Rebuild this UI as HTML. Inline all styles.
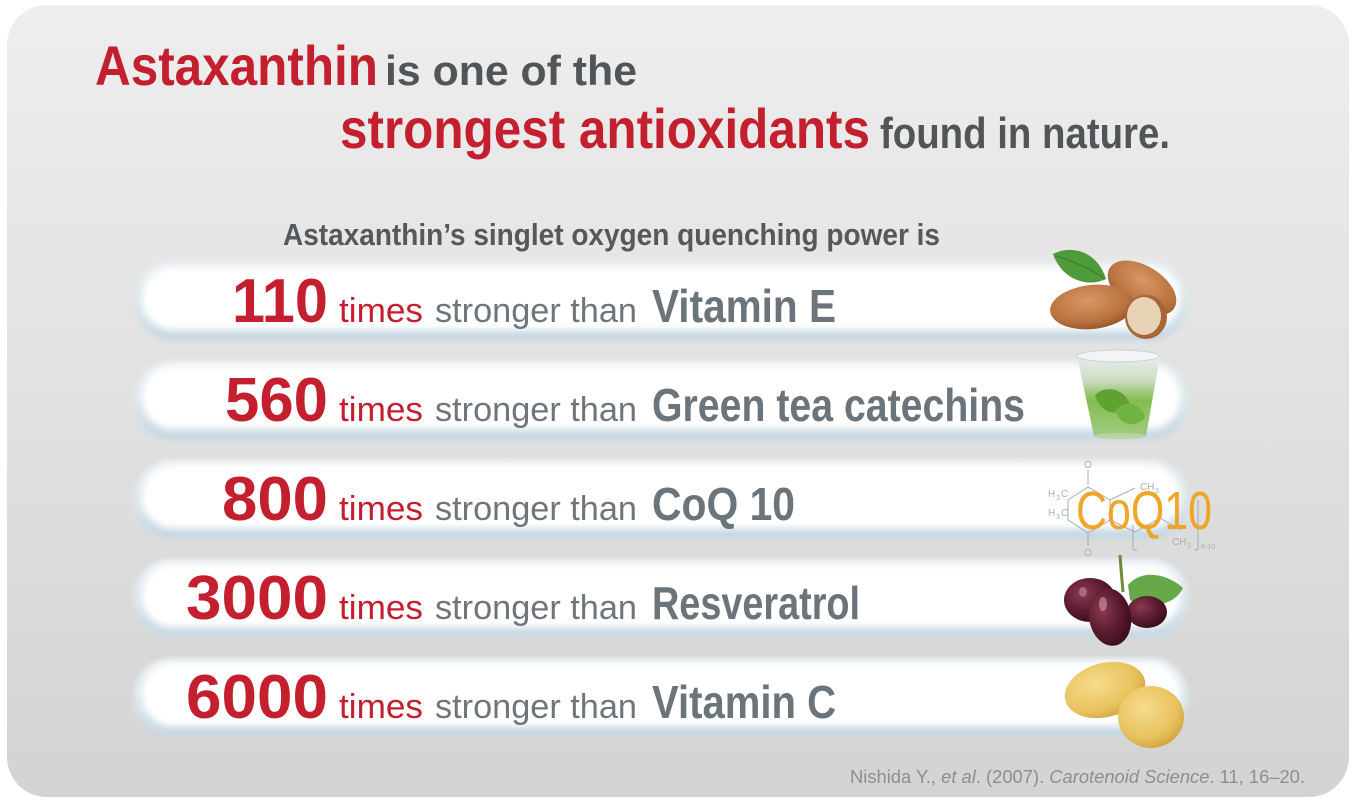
<!DOCTYPE html>
<html><head><meta charset="utf-8"><style>
html,body{margin:0;padding:0;background:#fff;}
svg{display:block;}
</style></head><body>
<svg width="1364" height="809" viewBox="0 0 1364 809" xmlns="http://www.w3.org/2000/svg" font-family="'Liberation Sans', Arial, sans-serif">
<defs>
<linearGradient id="card" x1="0" y1="0" x2="0" y2="1">
<stop offset="0" stop-color="#eeeeee"/>
<stop offset="0.5" stop-color="#e1e1e1"/>
<stop offset="1" stop-color="#d3d3d3"/>
</linearGradient>
<linearGradient id="pillEdge" x1="0" y1="0" x2="0" y2="1">
<stop offset="0" stop-color="#eaf0f4"/>
<stop offset="0.6" stop-color="#dae5ec"/>
<stop offset="1" stop-color="#c6d7e2"/>
</linearGradient>
<filter id="b3" x="-5%" y="-30%" width="110%" height="160%"><feGaussianBlur stdDeviation="2.5"/></filter>
<filter id="b4" x="-5%" y="-30%" width="110%" height="160%"><feGaussianBlur stdDeviation="3.5"/></filter>
<radialGradient id="alm" cx="0.45" cy="0.35" r="0.7">
<stop offset="0" stop-color="#d99866"/>
<stop offset="0.7" stop-color="#b8703e"/>
<stop offset="1" stop-color="#8e4f28"/>
</radialGradient>
<radialGradient id="grape" cx="0.35" cy="0.35" r="0.7">
<stop offset="0" stop-color="#8a3a52"/>
<stop offset="0.6" stop-color="#5a1a2e"/>
<stop offset="1" stop-color="#3a0e1c"/>
</radialGradient>
<radialGradient id="lemon" cx="0.4" cy="0.35" r="0.75">
<stop offset="0" stop-color="#f6dc8c"/>
<stop offset="0.65" stop-color="#e8c25e"/>
<stop offset="1" stop-color="#c99a36"/>
</radialGradient>
<linearGradient id="glass" x1="0" y1="0" x2="0" y2="1">
<stop offset="0" stop-color="#e8eef0"/>
<stop offset="0.3" stop-color="#c9dcc0"/>
<stop offset="0.55" stop-color="#7fb849"/>
<stop offset="1" stop-color="#9cc97a"/>
</linearGradient>
</defs>

<rect x="7" y="5" width="1342" height="792" rx="40" ry="40" fill="url(#card)"/>

<!-- Title -->
<text x="95" y="85" font-size="56" font-weight="bold" fill="#c41f2e" textLength="283" lengthAdjust="spacingAndGlyphs">Astaxanthin</text>
<text x="385" y="85" font-size="42" font-weight="bold" fill="#505558" textLength="252" lengthAdjust="spacingAndGlyphs">is one of the</text>
<text x="340" y="148" font-size="56" font-weight="bold" fill="#c41f2e" textLength="530" lengthAdjust="spacingAndGlyphs">strongest antioxidants</text>
<text x="880" y="148" font-size="44" font-weight="bold" fill="#505558" textLength="290" lengthAdjust="spacingAndGlyphs">found in nature.</text>

<text x="283" y="245" font-size="31" font-weight="bold" fill="#55595c" textLength="657" lengthAdjust="spacingAndGlyphs">Astaxanthin’s singlet oxygen quenching power is</text>

<!-- Pills -->
<g>
<rect x="133" y="262" width="1056" height="79" rx="39" fill="url(#pillEdge)" filter="url(#b3)"/>
<rect x="142" y="267" width="1038" height="63" rx="31" fill="#ffffff" filter="url(#b4)"/>
<rect x="133" y="361" width="1056" height="79" rx="39" fill="url(#pillEdge)" filter="url(#b3)"/>
<rect x="142" y="366" width="1038" height="63" rx="31" fill="#ffffff" filter="url(#b4)"/>
<rect x="133" y="460" width="1056" height="79" rx="39" fill="url(#pillEdge)" filter="url(#b3)"/>
<rect x="142" y="465" width="1038" height="63" rx="31" fill="#ffffff" filter="url(#b4)"/>
<rect x="133" y="559" width="1056" height="79" rx="39" fill="url(#pillEdge)" filter="url(#b3)"/>
<rect x="142" y="564" width="1038" height="63" rx="31" fill="#ffffff" filter="url(#b4)"/>
<rect x="133" y="658" width="1056" height="79" rx="39" fill="url(#pillEdge)" filter="url(#b3)"/>
<rect x="142" y="663" width="1038" height="63" rx="31" fill="#ffffff" filter="url(#b4)"/>
</g>

<!-- Row texts -->
<g font-weight="bold" fill="#c41f2e" font-size="62" text-anchor="end">
<text x="328" y="322" textLength="96" lengthAdjust="spacingAndGlyphs">110</text>
<text x="328" y="421" textLength="103" lengthAdjust="spacingAndGlyphs">560</text>
<text x="328" y="520" textLength="106" lengthAdjust="spacingAndGlyphs">800</text>
<text x="328" y="619" textLength="142" lengthAdjust="spacingAndGlyphs">3000</text>
<text x="328" y="718" textLength="142" lengthAdjust="spacingAndGlyphs">6000</text>
</g>
<g font-size="34" fill="#c41f2e">
<text x="339" y="322" textLength="84" lengthAdjust="spacingAndGlyphs">times</text>
<text x="339" y="421" textLength="84" lengthAdjust="spacingAndGlyphs">times</text>
<text x="339" y="520" textLength="84" lengthAdjust="spacingAndGlyphs">times</text>
<text x="339" y="619" textLength="84" lengthAdjust="spacingAndGlyphs">times</text>
<text x="339" y="718" textLength="84" lengthAdjust="spacingAndGlyphs">times</text>
</g>
<g font-size="34" fill="#6e767c">
<text x="435" y="322" textLength="202" lengthAdjust="spacingAndGlyphs">stronger than</text>
<text x="435" y="421" textLength="202" lengthAdjust="spacingAndGlyphs">stronger than</text>
<text x="435" y="520" textLength="202" lengthAdjust="spacingAndGlyphs">stronger than</text>
<text x="435" y="619" textLength="202" lengthAdjust="spacingAndGlyphs">stronger than</text>
<text x="435" y="718" textLength="202" lengthAdjust="spacingAndGlyphs">stronger than</text>
</g>
<g font-size="46" font-weight="bold" fill="#6b747a">
<text x="652" y="322" textLength="184" lengthAdjust="spacingAndGlyphs">Vitamin E</text>
<text x="652" y="421" textLength="373" lengthAdjust="spacingAndGlyphs">Green tea catechins</text>
<text x="652" y="520" textLength="143" lengthAdjust="spacingAndGlyphs">CoQ 10</text>
<text x="652" y="619" textLength="208" lengthAdjust="spacingAndGlyphs">Resveratrol</text>
<text x="652" y="718" textLength="184" lengthAdjust="spacingAndGlyphs">Vitamin C</text>
</g>

<!-- Almonds -->
<g>
<path d="M1053,254 C1072,244 1098,252 1106,279 C1088,288 1062,280 1053,254 Z" fill="#4f9a3a"/>
<path d="M1056,256 C1075,262 1092,270 1104,278" stroke="#3c7a2b" stroke-width="1" fill="none"/>
<ellipse cx="1142" cy="288" rx="38" ry="22" transform="rotate(32 1142 288)" fill="url(#alm)"/>
<ellipse cx="1092" cy="307" rx="42" ry="22" transform="rotate(-6 1092 307)" fill="url(#alm)"/>
<ellipse cx="1146" cy="317" rx="21" ry="22" fill="#a86535"/>
<ellipse cx="1144" cy="316" rx="17" ry="19" fill="#e8d3b6"/>
</g>

<!-- Green tea glass -->
<g>
<path d="M1077,356 L1160,356 L1146,436 L1094,436 Z" fill="url(#glass)" opacity="0.95"/>
<ellipse cx="1118" cy="356" rx="41" ry="6" fill="#f2f5f6" stroke="#c8d2d6" stroke-width="1"/>
<path d="M1095,395 C1105,385 1125,388 1130,405 C1120,418 1100,414 1095,395 Z" fill="#5fa232"/>
<path d="M1115,410 C1125,400 1142,402 1145,418 C1135,428 1120,426 1115,410 Z" fill="#6fb43e"/>
<ellipse cx="1120" cy="436" rx="26" ry="3" fill="#b9d2a2"/>
</g>

<!-- CoQ10 -->
<g stroke="#a8aeb2" stroke-width="1" fill="none">
<line x1="1088" y1="470" x2="1088" y2="485"/>
<path d="M1068,500 L1088,487 L1110,500 L1110,520 L1088,533 L1068,520 Z"/>
<line x1="1110" y1="500" x2="1135" y2="488"/>
<line x1="1088" y1="533" x2="1088" y2="546"/>
<path d="M1110,520 L1135,532 L1160,518 L1180,530"/>
<line x1="1133" y1="525" x2="1133" y2="550"/>
<line x1="1133" y1="550" x2="1137" y2="550"/>
<line x1="1198" y1="500" x2="1198" y2="550"/>
<line x1="1198" y1="550" x2="1194" y2="550"/>
</g>
<g fill="#a8aeb2" font-size="10">
<text x="1084" y="468">O</text>
<text x="1048" y="497">H</text><text x="1056" y="500" font-size="7">3</text><text x="1061" y="497">C</text>
<text x="1048" y="516">H</text><text x="1056" y="519" font-size="7">3</text><text x="1061" y="516">C</text>
<text x="1140" y="490">CH</text><text x="1155" y="493" font-size="7">3</text>
<text x="1084" y="556">O</text>
<text x="1172" y="545">CH</text><text x="1187" y="548" font-size="7">3</text>
<text x="1201" y="549" font-size="7">6-10</text>
</g>
<text x="1076" y="529" font-size="54" fill="#f0a21e" textLength="136" lengthAdjust="spacingAndGlyphs" opacity="0.95">CoQ10</text>

<!-- Grapes -->
<g>
<path d="M1120,555 C1121,570 1122,580 1123,592" stroke="#6f8a3a" stroke-width="3" fill="none"/>
<path d="M1128,585 C1140,570 1165,572 1183,588 C1175,605 1150,610 1130,600 Z" fill="#66a84a"/>
<ellipse cx="1090" cy="600" rx="26" ry="22" fill="url(#grape)"/>
<ellipse cx="1147" cy="612" rx="20" ry="16" fill="url(#grape)"/>
<ellipse cx="1110" cy="617" rx="21" ry="29" transform="rotate(-10 1110 617)" fill="url(#grape)"/>
<ellipse cx="1103" cy="604" rx="4" ry="7" fill="#c98a98" opacity="0.7"/>
<ellipse cx="1083" cy="592" rx="4" ry="5" fill="#c98a98" opacity="0.6"/>
</g>

<!-- Lemons -->
<g>
<ellipse cx="1105" cy="690" rx="41" ry="27" transform="rotate(-15 1105 690)" fill="url(#lemon)"/>
<ellipse cx="1151" cy="717" rx="33" ry="31" fill="url(#lemon)"/>
</g>

<!-- Citation -->
<text x="850" y="783" font-size="18" fill="#8a8f93" textLength="455" lengthAdjust="spacingAndGlyphs">Nishida Y., <tspan font-style="italic">et al</tspan>. (2007). <tspan font-style="italic">Carotenoid Science</tspan>. 11, 16–20.</text>
</svg>
</body></html>
